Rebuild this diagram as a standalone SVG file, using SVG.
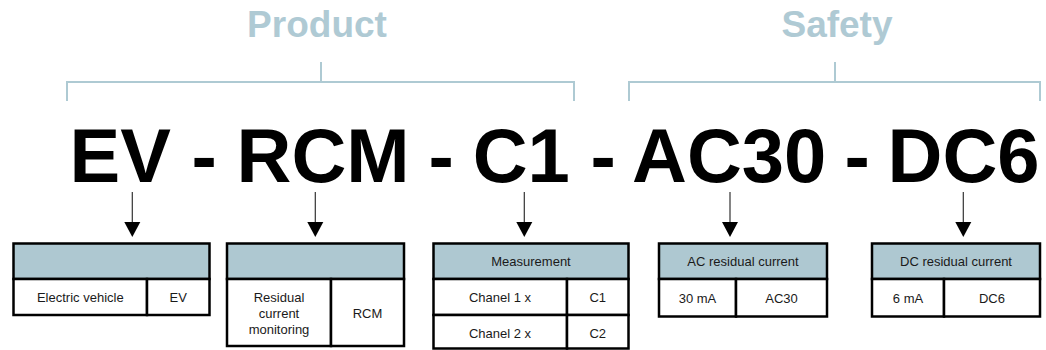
<svg xmlns="http://www.w3.org/2000/svg" width="1046" height="350" viewBox="0 0 1046 350">
<style>
.lbl{font-family:"Liberation Sans",Arial,sans-serif;font-weight:bold;font-size:37px;fill:#afcad4;text-anchor:middle}
.code{font-family:"Liberation Sans",Arial,sans-serif;font-weight:bold;font-size:76px;fill:#000}
.br{fill:none;stroke:#aecad3;stroke-width:2}
.hd{fill:#aec8d1;stroke:#000;stroke-width:2.5}
.cell{fill:#fff;stroke:#000;stroke-width:2.5}
.t{font-family:"Liberation Sans",Arial,sans-serif;font-size:13px;fill:#1a1a1a;text-anchor:middle}
.arr{stroke:#333;stroke-width:1.2;fill:none}
.head{fill:#000}
</style>
<rect width="1046" height="350" fill="#fff"/>
<g id="product-label">
<text class="lbl" x="317" y="37">Product</text>
<path class="br" d="M67,101 V82 H574 V101 M321,82 V62"/>
</g>
<g id="safety-label">
<text class="lbl" x="837" y="37">Safety</text>
<path class="br" d="M629,101 V82 H1040 V101 M835,82 V62"/>
</g>
<g id="code">
<text class="code" y="181.5"><tspan x="69.5">EV</tspan><tspan x="191.5">-</tspan><tspan x="236.5">RCM</tspan><tspan x="428.5">-</tspan><tspan x="472.7">C1</tspan><tspan x="590.5">-</tspan><tspan x="632">AC30</tspan><tspan x="844.5">-</tspan><tspan x="887.5">DC6</tspan></text>
</g>
<g id="connectors">
<path class="arr" d="M132.3,192 V223"/>
<polygon class="head" points="124.3,222 140.3,222 132.3,237"/>
<path class="arr" d="M315.3,192 V223"/>
<polygon class="head" points="307.3,222 323.3,222 315.3,237"/>
<path class="arr" d="M524.3,192 V223"/>
<polygon class="head" points="516.3,222 532.3,222 524.3,237"/>
<path class="arr" d="M730,192 V223"/>
<polygon class="head" points="722,222 738,222 730,237"/>
<path class="arr" d="M963.3,192 V223"/>
<polygon class="head" points="955.3,222 971.3,222 963.3,237"/>
</g>
<g id="table-ev">
<rect class="hd" x="13.5" y="243.5" width="196" height="35.5"/>
<rect class="cell" x="13.5" y="279" width="133.5" height="36"/>
<rect class="cell" x="147" y="279" width="62.5" height="36"/>
<text class="t" x="80.3" y="301.5">Electric vehicle</text>
<text class="t" x="178.2" y="301.5">EV</text>
</g>
<g id="table-rcm">
<rect class="hd" x="227" y="243.5" width="177" height="35.5"/>
<rect class="cell" x="227" y="279" width="104" height="67"/>
<rect class="cell" x="331" y="279" width="73" height="67"/>
<text class="t" x="279" y="302">Residual</text>
<text class="t" x="279" y="318">current</text>
<text class="t" x="279" y="334">monitoring</text>
<text class="t" x="367.5" y="317.5">RCM</text>
</g>
<g id="table-c">
<rect class="hd" x="433.5" y="243.5" width="195" height="35.5"/>
<text class="t" x="531" y="266">Measurement</text>
<rect class="cell" x="433.5" y="279" width="133.5" height="36"/>
<rect class="cell" x="567" y="279" width="61.5" height="36"/>
<rect class="cell" x="433.5" y="315" width="133.5" height="33.5"/>
<rect class="cell" x="567" y="315" width="61.5" height="33.5"/>
<text class="t" x="500" y="301.5">Chanel 1 x</text>
<text class="t" x="597.8" y="301.5">C1</text>
<text class="t" x="500" y="337.5">Chanel 2 x</text>
<text class="t" x="597.8" y="337.5">C2</text>
</g>
<g id="table-ac">
<rect class="hd" x="659" y="243.5" width="168" height="35.5"/>
<text class="t" x="743" y="266">AC residual current</text>
<rect class="cell" x="659" y="279" width="77" height="37.5"/>
<rect class="cell" x="736" y="279" width="91" height="37.5"/>
<text class="t" x="697.5" y="302.5">30 mA</text>
<text class="t" x="781.5" y="302.5">AC30</text>
</g>
<g id="table-dc">
<rect class="hd" x="872" y="243.5" width="168" height="35.5"/>
<text class="t" x="956" y="266">DC residual current</text>
<rect class="cell" x="872" y="279" width="72" height="37.5"/>
<rect class="cell" x="944" y="279" width="96" height="37.5"/>
<text class="t" x="908" y="302.5">6 mA</text>
<text class="t" x="992" y="302.5">DC6</text>
</g>
</svg>
